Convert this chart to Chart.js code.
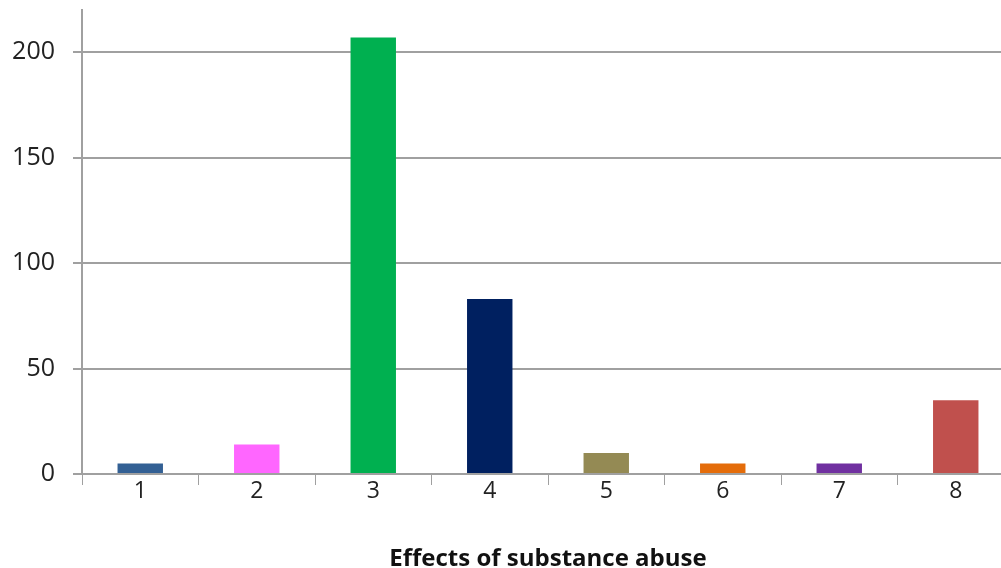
<!DOCTYPE html>
<html>
<head>
<meta charset="utf-8">
<script src="https://cdn.jsdelivr.net/npm/chart.js@4"></script>
<style>
  html, body { margin: 0; padding: 0; background: #fff; overflow: hidden; }
  #wrap { width: 1016px; height: 568px; }
</style>
</head>
<body>
<div id="wrap"><canvas id="effectsChart"></canvas></div>
<script>
var categories = ['1', '2', '3', '4', '5', '6', '7', '8'];
var counts = [5, 14, 207, 83, 10, 5, 5, 35];
var barColors = ['#336094', '#FF66FF', '#00B050', '#002060', '#948A54', '#E46C0A', '#7030A0', '#C0504D'];
var yTicks = [0, 50, 100, 150, 200];

var fontFamily = "'Open Sans', 'Liberation Sans', sans-serif";

var ctx = document.getElementById('effectsChart').getContext('2d');
var effectsChart = new Chart(ctx, {
    type: 'bar',
    data: {
        labels: categories,
        datasets: [{
            label: 'Effects of substance abuse',
            data: counts,
            backgroundColor: barColors,
            barPercentage: 0.39,
            categoryPercentage: 1.0
        }]
    },
    options: {
        responsive: true,
        maintainAspectRatio: false,
        animation: false,
        layout: { padding: { top: 10, right: 2, left: 0, bottom: 0 } },
        plugins: {
            legend: { display: false },
            tooltip: { enabled: false }
        },
        scales: {
            x: {
                grid: {
                    display: true,
                    drawOnChartArea: false,
                    drawTicks: true,
                    tickLength: 11,
                    color: '#a0a0a0',
                    offset: true
                },
                border: { color: '#a0a0a0', width: 2 },
                ticks: {
                    color: '#222',
                    padding: -7,
                    font: { family: fontFamily, size: 23 }
                },
                title: {
                    display: true,
                    text: 'Effects of substance abuse',
                    color: '#111',
                    padding: { top: 23, bottom: -6 },
                    font: { family: fontFamily, size: 24, weight: 'bold' }
                },
                afterFit: function(scale) {
                    scale.height = 94;
                    scale.paddingLeft = 0;
                    scale.paddingRight = 0;
                }
            },
            y: {
                min: 0,
                max: 220,
                afterBuildTicks: function(axis) {
                    axis.ticks = yTicks.map(function(v) { return { value: v }; });
                },
                grid: {
                    color: '#a0a0a0',
                    lineWidth: 2,
                    tickLength: 9
                },
                border: { color: '#a0a0a0', width: 2 },
                ticks: {
                    color: '#222',
                    padding: 18,
                    font: { family: fontFamily, size: 25 }
                },
                afterFit: function(scale) {
                    scale.width = 82;
                    scale.paddingTop = 0;
                    scale.paddingBottom = 0;
                }
            }
        }
    }
});
</script>
</body>
</html>
